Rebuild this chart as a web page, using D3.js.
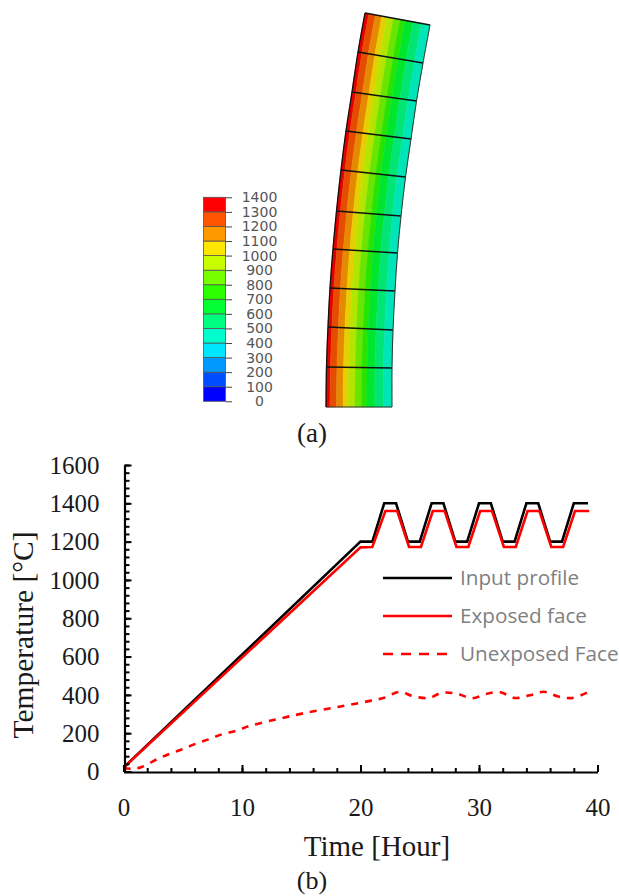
<!DOCTYPE html>
<html>
<head>
    <title>Temperature field and time history</title>
    <script src="https://d3js.org/d3.v7.min.js"></script>
    <style>
        body { margin: 0; background: #fff; }
        svg { display: block; }
        .serif { font-family: "Liberation Serif", serif; fill: #1a1a1a; }
        .legend-label { font-family: "Open Sans", sans-serif; font-size: 20.7px; fill: #7f7f7f; }
        .contour-axis text { font-family: "DejaVu Sans", sans-serif; font-size: 14px; fill: #555; }
    </style>
</head>
<body>
    <svg width="619" height="896"></svg>
    <script>
        // contour legend
        const contourLevels = [0, 100, 200, 300, 400, 500, 600, 700, 800, 900, 1000, 1100, 1200, 1300, 1400];
        const contourColors = ["#0000ff", "#004dff", "#0099ff", "#00e6ff", "#00ffcc", "#00ff80", "#00ff33",
            "#2bff00", "#77ff00", "#c8ff00", "#ffe600", "#ff9900", "#ff5500", "#ff0000"];

        // wall section, model units from the bottom left corner
        const outerX = [0, 0.5, 2, 4, 7, 10.5, 15, 20, 26, 32, 39];
        const outerY = [0, 40, 80, 119, 158, 196, 237, 276, 315, 355, 394];
        const innerX = [66, 66, 67, 69, 71.5, 75, 79.5, 85, 90.5, 97, 104];
        const innerY = [0, 39, 77, 116, 154, 191, 230, 268, 306, 344, 382];

        // depth through the wall (0 exposed, 1 unexposed) where each band ends
        const bandLow = [1300, 1200, 1100, 1000, 900, 800, 700, 600, 500, 400];
        const bandDepth = [0.06, 0.16, 0.26, 0.34, 0.44, 0.54, 0.62, 0.74, 0.87, 1];

        // time history
        const inputTime = [0, 20, 21, 22, 23, 24, 25, 26, 27, 28, 29, 30, 31, 32, 33, 34, 35, 36, 37, 38, 39.2];
        const inputTemp = [20, 1200, 1200, 1400, 1400, 1200, 1200, 1400, 1400, 1200, 1200, 1400, 1400, 1200, 1200, 1400, 1400, 1200, 1200, 1400, 1400];
        const exposedTime = [0, 20, 21, 22.1, 23.1, 24.1, 25.1, 26.1, 27.1, 28.1, 29.1, 30.1, 31.1, 32.1, 33.1, 34.1, 35.1, 36.1, 37.1, 38.1, 39.3];
        const exposedTemp = [20, 1170, 1172, 1360, 1360, 1172, 1172, 1360, 1360, 1172, 1172, 1360, 1360, 1172, 1172, 1360, 1360, 1172, 1172, 1360, 1360];
        const unexposedTime = [0, 0.8, 1.6, 2.7, 3.8, 4.95, 6.1, 7.2, 8.3, 9.5, 10.7, 12.9, 15.2, 18.2, 20.9, 22, 23.3, 24.4, 25.8, 26.8, 28.1, 29.4, 30.6, 31.8, 33, 34.3, 35.5, 36.7, 37.9, 39.2];
        const unexposedTemp = [18, 14, 25, 60, 90, 116, 145, 168, 194, 213, 239, 272, 304, 338, 370, 385, 416, 394, 384, 410, 407, 382, 405, 414, 384, 398, 416, 391, 384, 414];

        const xMajor = [0, 10, 20, 30, 40];
        const yMajor = [0, 200, 400, 600, 800, 1000, 1200, 1400, 1600];
        const legendNames = ["Input profile", "Exposed face", "Unexposed Face"];

        const svg = d3.select("svg");

        // ---- (a) contour plot ----
        const sectionX = d3.scaleLinear().domain([0, 104]).range([326, 430]);
        const sectionY = d3.scaleLinear().domain([0, 394]).range([407, 13]);
        const colorOf = d3.scaleThreshold().domain(contourLevels.slice(1, -1)).range(contourColors);
        const stations = d3.range(outerX.length);

        const pointX = (i, f) => sectionX(outerX[i] + f * (innerX[i] - outerX[i]));
        const pointY = (i, f) => sectionY(outerY[i] + f * (innerY[i] - outerY[i]));

        bandLow.forEach((low, b) => {
            const from = b === 0 ? 0 : bandDepth[b - 1];
            const to = bandDepth[b];
            const area = d3.area()
                .curve(d3.curveCatmullRom)
                .x0(i => pointX(i, from)).y0(i => pointY(i, from))
                .x1(i => pointX(i, to)).y1(i => pointY(i, to));
            const shade = d3.color(colorOf(low + 50)).darker(0.3);
            svg.append("path")
                .attr("d", area(stations))
                .attr("fill", shade)
                .attr("stroke", shade)
                .attr("stroke-width", 0.5);
        });

        // element joints
        svg.selectAll(".joint")
            .data(stations.slice(1))
            .enter().append("line")
            .attr("class", "joint")
            .attr("x1", i => pointX(i, 0)).attr("y1", i => pointY(i, 0))
            .attr("x2", i => pointX(i, 1)).attr("y2", i => pointY(i, 1))
            .attr("stroke", "#111")
            .attr("stroke-width", 1.3);

        // section outline
        const edge = f => d3.line().curve(d3.curveCatmullRom).x(i => pointX(i, f)).y(i => pointY(i, f))(stations);
        svg.append("path").attr("d", edge(0)).attr("fill", "none").attr("stroke", "#111").attr("stroke-width", 1.3);
        svg.append("path").attr("d", edge(1)).attr("fill", "none").attr("stroke", "#333").attr("stroke-width", 1);
        svg.append("line")
            .attr("x1", pointX(0, 0)).attr("y1", pointY(0, 0))
            .attr("x2", pointX(0, 1)).attr("y2", pointY(0, 1))
            .attr("stroke", "#333").attr("stroke-width", 1);

        // colour bar
        const barScale = d3.scaleLinear().domain([0, 1400]).range([401.3, 197.3]);
        svg.selectAll(".swatch")
            .data(contourColors)
            .enter().append("rect")
            .attr("class", "swatch")
            .attr("x", 203.5)
            .attr("width", 22)
            .attr("y", (d, i) => barScale(contourLevels[i + 1]))
            .attr("height", (d, i) => barScale(contourLevels[i]) - barScale(contourLevels[i + 1]))
            .attr("fill", d => d)
            .attr("stroke", "#555")
            .attr("stroke-width", 0.8);

        const barAxis = svg.append("g")
            .attr("class", "contour-axis")
            .attr("transform", "translate(225.5, 0)")
            .call(d3.axisRight(barScale).tickValues(contourLevels).tickSize(6.5).tickFormat(d3.format("d")));
        barAxis.select(".domain").remove();
        barAxis.selectAll("line").attr("stroke", "#444");
        barAxis.selectAll("text").attr("x", 34).style("text-anchor", "middle");

        svg.append("text").attr("class", "serif")
            .attr("x", 312).attr("y", 442)
            .attr("font-size", 27).attr("text-anchor", "middle")
            .text("(a)");

        // ---- (b) temperature history ----
        const xScale = d3.scaleLinear().domain([0, 40]).range([123.5, 597.5]);
        const yScale = d3.scaleLinear().domain([0, 1600]).range([771.5, 465]);

        const drawLine = (times, temps, color, dash) => svg.append("path")
            .attr("d", d3.line().x(i => xScale(times[i])).y(i => yScale(temps[i]))
                .curve(dash ? d3.curveCatmullRom : d3.curveLinear)(d3.range(times.length)))
            .attr("fill", "none")
            .attr("stroke", color)
            .attr("stroke-width", 2.6)
            .attr("stroke-dasharray", dash);

        drawLine(inputTime, inputTemp, "#000");
        drawLine(exposedTime, exposedTemp, "#f00");
        drawLine(unexposedTime, unexposedTemp, "#f00", "7 7");

        // axes: minor ticks first, then the labelled major ones
        const yAxisG = svg.append("g").attr("transform", "translate(124.5, 0)");
        yAxisG.call(d3.axisRight(yScale).tickValues(d3.range(0, 1601, 40)).tickSize(5).tickSizeOuter(0).tickFormat(""));
        yAxisG.selectAll("line").attr("stroke", "#000").attr("stroke-width", 2);
        yAxisG.select(".domain").attr("stroke", "#000").attr("stroke-width", 2.2);

        const yLabels = svg.append("g").attr("transform", "translate(124.5, 0)")
            .call(d3.axisRight(yScale).tickValues(yMajor).tickSize(7).tickFormat(d3.format("d")));
        yLabels.select(".domain").remove();
        yLabels.selectAll("line").attr("stroke", "#000").attr("stroke-width", 2);
        yLabels.selectAll("text")
            .attr("class", "serif").attr("x", -25).attr("dy", "0.33em")
            .style("text-anchor", "end").style("font-size", "25px");

        const xAxisG = svg.append("g").attr("transform", "translate(0, 772)");
        xAxisG.call(d3.axisTop(xScale).tickValues(d3.range(0, 41, 2)).tickSize(4).tickSizeOuter(0).tickFormat(""));
        xAxisG.selectAll("line").attr("stroke", "#000").attr("stroke-width", 2);
        xAxisG.select(".domain").attr("stroke", "#000").attr("stroke-width", 2.2);

        const xLabels = svg.append("g").attr("transform", "translate(0, 772)")
            .call(d3.axisTop(xScale).tickValues(xMajor).tickSize(7).tickFormat(d3.format("d")));
        xLabels.select(".domain").remove();
        xLabels.selectAll("line").attr("stroke", "#000").attr("stroke-width", 2);
        xLabels.selectAll("text")
            .attr("class", "serif").attr("y", 44).attr("dy", 0)
            .style("text-anchor", "middle").style("font-size", "25px");

        svg.append("text").attr("class", "serif")
            .attr("x", 377).attr("y", 856)
            .attr("font-size", 29).attr("text-anchor", "middle")
            .text("Time [Hour]");

        svg.append("text").attr("class", "serif")
            .attr("transform", "translate(33, 635) rotate(-90)")
            .attr("font-size", 29.5).attr("text-anchor", "middle")
            .text("Temperature [\u00B0C]");

        svg.append("text").attr("class", "serif")
            .attr("x", 312).attr("y", 889)
            .attr("font-size", 26).attr("text-anchor", "middle")
            .text("(b)");

        // legend
        const legendY = d3.scalePoint().domain(legendNames).range([578, 654]);
        const legendRows = svg.selectAll(".legend-row")
            .data(legendNames)
            .enter().append("g")
            .attr("class", "legend-row")
            .attr("transform", d => `translate(0, ${legendY(d)})`);
        legendRows.append("line")
            .attr("x1", 383).attr("x2", d => d === "Unexposed Face" ? 449 : 452)
            .attr("stroke", (d, i) => i === 0 ? "#000" : "#f00")
            .attr("stroke-width", 2.6)
            .attr("stroke-dasharray", (d, i) => i === 2 ? "10 8" : null);
        legendRows.append("text")
            .attr("class", "legend-label")
            .attr("x", 460).attr("dy", "0.33em")
            .text(d => d);
    </script>
</body>
</html>
